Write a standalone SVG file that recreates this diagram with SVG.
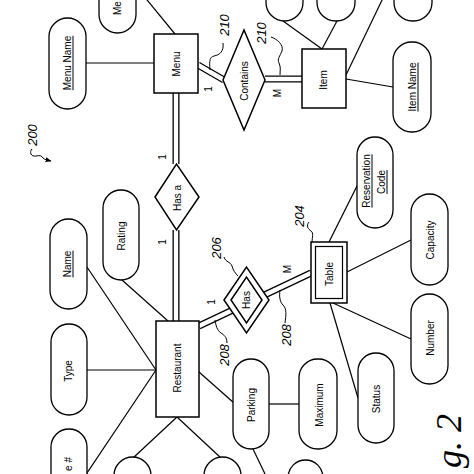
<svg xmlns="http://www.w3.org/2000/svg" width="474" height="474" viewBox="0 0 474 474">
<style>
.ln{stroke:#000;stroke-width:1.2;fill:none}
.sq{stroke:#000;stroke-width:1;fill:none}
.d1{stroke:#000;stroke-width:7;fill:none}
.d2{stroke:#fff;stroke-width:4.4;fill:none}
.box{fill:#fff;stroke:#000;stroke-width:1.5}
.att{fill:#fff;stroke:#000;stroke-width:1.3}
.t{font-family:"Liberation Sans",Arial,sans-serif;font-size:10px;text-anchor:middle;dominant-baseline:central;fill:#000}
.u{text-decoration:underline}
.ref{font-family:"Liberation Sans",Arial,sans-serif;font-size:13px;font-style:italic;text-anchor:middle;dominant-baseline:central;fill:#000}
.fig{font-family:"Liberation Serif","Times New Roman",serif;font-size:36px;font-style:italic;text-anchor:end;fill:#000}
</style>
<defs>
<marker id="ah" viewBox="0 0 10 10" refX="9" refY="5" markerWidth="6" markerHeight="6" orient="auto"><path d="M0,1 L10,5 L0,9 z" fill="#000"/></marker>
</defs>
<rect width="474" height="474" fill="#fff"/>
<g id="connectors">
<line class="ln" x1="86" y1="63" x2="154" y2="63"/>
<line class="ln" x1="175" y1="34" x2="143" y2="-5"/>
<line class="ln" x1="283" y1="21" x2="322" y2="49"/>
<line class="ln" x1="337" y1="21" x2="322" y2="49"/>
<line class="ln" x1="384" y1="-4" x2="346" y2="75"/>
<line class="ln" x1="346" y1="79" x2="393" y2="87"/>
<line class="ln" x1="122" y1="280" x2="168" y2="321"/>
<line class="ln" x1="87" y1="267" x2="156" y2="370"/>
<line class="ln" x1="87" y1="370" x2="156" y2="370"/>
<line class="ln" x1="156" y1="370" x2="85" y2="476"/>
<line class="ln" x1="177" y1="417" x2="133" y2="458"/>
<line class="ln" x1="177" y1="417" x2="221" y2="458"/>
<line class="ln" x1="199" y1="372" x2="234" y2="403"/>
<line class="ln" x1="269" y1="404" x2="299" y2="404"/>
<line class="ln" x1="253" y1="449" x2="266" y2="476"/>
<line class="ln" x1="330" y1="303" x2="358" y2="398"/>
<line class="ln" x1="333" y1="303" x2="411" y2="339"/>
<line class="ln" x1="347" y1="272" x2="411" y2="240"/>
<line class="ln" x1="329" y1="242" x2="358" y2="184"/>
<path class="d1" d="M176,93 V164 M176,230 V321 M198,65 L224,80 M265,79 H302 M199,326 L311,273"/>
<path class="d2" d="M176,93 V164 M176,230 V321 M198,65 L224,80 M265,79 H302 M199,326 L311,273"/>
<path class="sq" d="M223,43 c1,8 -3,12 -9,13 c-4,1 -5,4 -4,14"/>
<path class="sq" d="M271,37 c6,2 13,8 11,14 c-2,5 -5,8 -3,12 c2,4 1,8 1,12"/>
<path class="sq" d="M224,257 c2,6 6,4 8,9 c1,4 3,7 6,10"/>
<path class="sq" d="M309,222 c-3,4 -1,7 2,9 c3,2 1,6 1,12"/>
<path class="sq" d="M227,343 c0,-6 -3,-8 -6,-10 c-4,-3 -5,-7 -6,-13"/>
<path class="sq" d="M285,323 c1,-8 2,-14 -2,-18 c-3,-3 -4,-8 -3,-15"/>
<path class="sq" d="M32,149 c-3,3 -1,8 4,7 c4,-1 6,0 7,2 c2,2 4,2 8,3" marker-end="url(#ah)"/>
</g>
<g id="menu"><rect class="box" x="154" y="34" width="44" height="59"/><text class="t" transform="translate(176,64) rotate(-90)">Menu</text></g>
<g id="menu-name"><rect class="att" x="49" y="18" width="37" height="91" rx="18.5"/><text class="t u" transform="translate(67,63) rotate(-90)">Menu Name</text></g>
<g id="menu-attr-top"><rect class="att" x="99" y="-58" width="37" height="91" rx="18.5"/><text class="t" style="text-anchor:start" transform="translate(117,15) rotate(-90)">Me</text></g>
<g id="item-attr-1"><rect class="att" x="266" y="-70" width="37" height="91" rx="18.5"/></g>
<g id="item-attr-2"><rect class="att" x="317" y="-70" width="38" height="91" rx="18.5"/></g>
<g id="item-attr-3"><rect class="att" x="394" y="-70" width="38" height="91" rx="18.5"/></g>
<g id="contains"><polygon class="box" points="223,80 244,30 265,80 244,130"/><text class="t" transform="translate(244,81) rotate(-90)">Contains</text></g>
<g id="item"><rect class="box" x="302" y="49" width="44" height="59"/><text class="t" transform="translate(323,80) rotate(-90)">Item</text></g>
<g id="item-name"><rect class="att" x="393" y="42" width="38" height="90" rx="18.5"/><text class="t u" transform="translate(412,87) rotate(-90)">Item Name</text></g>
<g id="has-a"><polygon class="box" points="155,197 176.5,164 199,197 176.5,230"/><text class="t" transform="translate(177,198) rotate(-90)">Has a</text></g>
<g id="rating"><rect class="att" x="103" y="190" width="36" height="90" rx="18"/><text class="t" transform="translate(121,236) rotate(-90)">Rating</text></g>
<g id="name"><rect class="att" x="50" y="219" width="37" height="90" rx="18.5"/><text class="t u" transform="translate(67,264) rotate(-90)">Name</text></g>
<g id="restaurant"><rect class="box" x="156" y="321" width="43" height="96"/><text class="t" transform="translate(177,368) rotate(-90)">Restaurant</text></g>
<g id="type"><rect class="att" x="51" y="324" width="36" height="91" rx="18"/><text class="t" transform="translate(68,371) rotate(-90)">Type</text></g>
<g id="number-attr"><rect class="att" x="51" y="429" width="36" height="91" rx="18"/><text class="t" style="text-anchor:end" transform="translate(68,457) rotate(-90)">e #</text></g>
<g id="rest-attr-1"><rect class="att" x="114" y="457" width="37" height="91" rx="18.5"/></g>
<g id="rest-attr-2"><rect class="att" x="204" y="457" width="37" height="91" rx="18.5"/></g>
<g id="parking-attr"><rect class="att" x="288" y="460" width="35" height="91" rx="17.5"/></g>
<g id="parking"><rect class="att" x="233" y="359" width="36" height="90" rx="18"/><text class="t" transform="translate(251,405) rotate(-90)">Parking</text></g>
<g id="maximum"><rect class="att" x="299" y="359" width="38" height="90" rx="18.5"/><text class="t" transform="translate(319,405) rotate(-90)">Maximum</text></g>
<g id="has"><polygon class="box" points="224,300 246.5,267 269,300 246.5,333"/><polygon class="box" points="231,300 246.5,277 262,300 246.5,323"/><text class="t" transform="translate(246.5,300) rotate(-90)">Has</text></g>
<g id="table"><rect class="box" x="311" y="242" width="36" height="61"/><rect class="box" x="315.5" y="246.5" width="27" height="52" style="stroke-width:1.2"/><text class="t" transform="translate(329,274) rotate(-90)">Table</text></g>
<g id="reservation-code"><rect class="att" x="357" y="137" width="36" height="91" rx="18"/><text class="t u" transform="translate(366,181) rotate(-90)">Reservation</text><text class="t u" transform="translate(381,182) rotate(-90)">Code</text></g>
<g id="capacity"><rect class="att" x="411" y="194" width="37" height="91" rx="18.5"/><text class="t" transform="translate(430,240) rotate(-90)">Capacity</text></g>
<g id="status"><rect class="att" x="358" y="353" width="36" height="90" rx="18"/><text class="t" transform="translate(376,399) rotate(-90)">Status</text></g>
<g id="number"><rect class="att" x="411" y="294" width="37" height="90" rx="18.5"/><text class="t" transform="translate(430,338) rotate(-90)">Number</text></g>
<g id="labels">
<text class="t" transform="translate(162,157) rotate(-90)">1</text>
<text class="t" transform="translate(162,242) rotate(-90)">1</text>
<text class="t" transform="translate(208,89) rotate(-90)">1</text>
<text class="t" transform="translate(277,93) rotate(-90)">M</text>
<text class="t" transform="translate(211,302) rotate(-90)">1</text>
<text class="t" transform="translate(287,269) rotate(-90)">M</text>
<text class="ref" transform="translate(32,135) rotate(-90)">200</text>
<text class="ref" transform="translate(224,25) rotate(-90)">210</text>
<text class="ref" transform="translate(261,33) rotate(-90)">210</text>
<text class="ref" transform="translate(216,248) rotate(-90)">206</text>
<text class="ref" transform="translate(299,216) rotate(-90)">204</text>
<text class="ref" transform="translate(224,355) rotate(-90)">208</text>
<text class="ref" transform="translate(286,335) rotate(-90)">208</text>
<text class="fig" transform="translate(461,414) rotate(-90)">g. 2</text>
</g>
</svg>
